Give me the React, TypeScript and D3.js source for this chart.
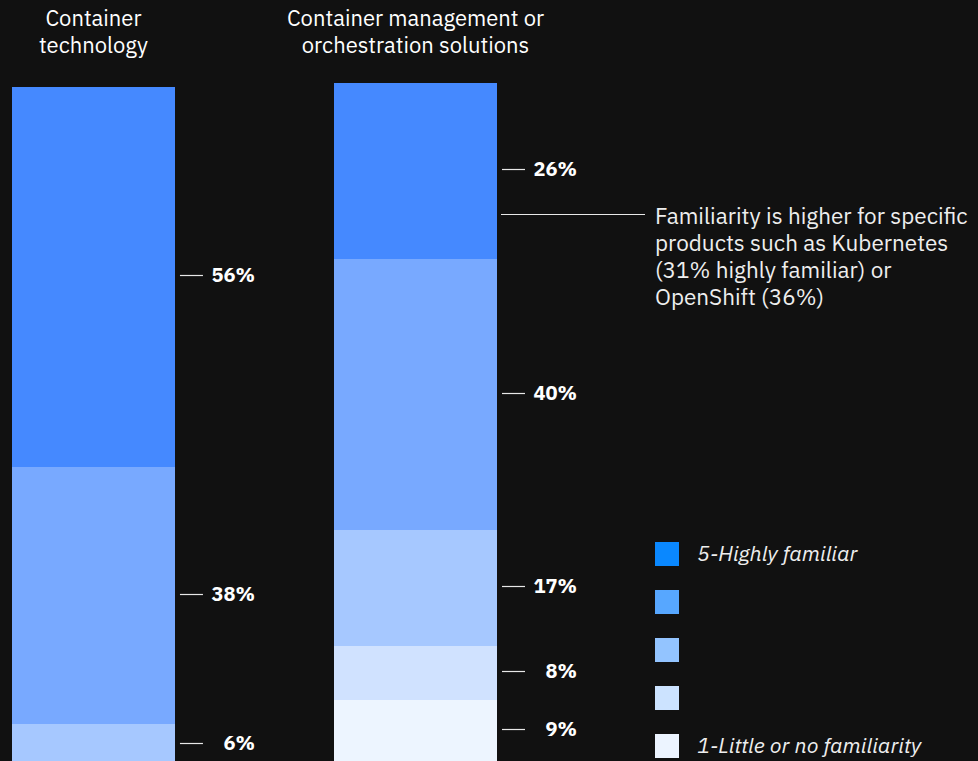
import React from "react";
import * as d3 from "d3";

const categories = ["Container technology", "Container management or orchestration solutions"];
const titleLines = [["Container", "technology"], ["Container management or", "orchestration solutions"]];
const levels = ["5-Highly familiar", "4", "3", "2", "1-Little or no familiarity"];
const containerTech = [56, 38, 6, 0, 0];
const orchestration = [26, 40, 17, 8, 9];
const barColors = ["#4589ff", "#78a9ff", "#a6c8ff", "#d0e2ff", "#edf5ff"];
const legendColors = ["#0a88ff", "#57a7ff", "#93c4ff", "#cce3ff", "#ecf4ff"];
const legendLabels = ["5-Highly familiar", "", "", "", "1-Little or no familiarity"];
const annotationLines = [
  "Familiarity is higher for specific",
  "products such as Kubernetes",
  "(31% highly familiar) or",
  "OpenShift (36%)",
];

const W = 978;
const H = 761;
const FONT = "'IBM Plex Sans', 'Noto Sans', 'Open Sans', sans-serif";

export default function App() {
  const series = [containerTech, orchestration];
  const tops = [87, 83];
  const x = d3.scaleBand<string>().domain(categories).range([12, 497]).paddingInner(0.494).paddingOuter(0);
  const y = d3.scaleLinear().domain([0, 100]).range([0, 678]);
  const bw = x.bandwidth();

  return (
    <svg width={W} height={H} style={{ position: "fixed", left: 0, top: 0, background: "#111111" }} fontFamily={FONT}>
      <rect x={0} y={0} width={W} height={H} fill="#111111" />
      {categories.map((c, ci) => {
        const x0 = x(c) as number;
        const stack = d3.cumsum(series[ci]);
        return (
          <g key={c}>
            {titleLines[ci].map((t, li) => (
              <text key={li} x={x0 + bw / 2} y={26 + li * 27} fill="#ffffff" fontSize={22} textAnchor="middle">
                {t}
              </text>
            ))}
            {series[ci].map((v, i) => {
              if (v <= 0) return null;
              const start = stack[i] - v;
              const yTop = Math.round(tops[ci] + y(start));
              const yBot = Math.round(tops[ci] + y(start + v));
              const h = yBot - yTop;
              const mid = Math.round(yTop + h / 2) - 2;
              return (
                <g key={i}>
                  <rect x={x0} y={yTop} width={bw} height={h} fill={barColors[i]} shapeRendering="crispEdges" />
                  <line x1={x0 + bw + 5} x2={x0 + bw + 28} y1={mid + 0.5} y2={mid + 0.5} stroke="#e8e8e8" strokeWidth={1.2} />
                  <text x={x0 + bw + 80} y={mid + 7} fill="#ffffff" fontSize={20} fontWeight={700} textAnchor="end">
                    {v}%
                  </text>
                </g>
              );
            })}
          </g>
        );
      })}
      <line x1={501} x2={645} y1={214.5} y2={214.5} stroke="#e8e8e8" strokeWidth={1.2} />
      {annotationLines.map((t, i) => (
        <text key={i} x={655} y={224 + i * 27} fill="#eeeeee" fontSize={22.5}>
          {t}
        </text>
      ))}
      {levels.map((l, i) => (
        <g key={l}>
          <rect x={655} y={542 + i * 48} width={24} height={24} fill={legendColors[i]} />
          {legendLabels[i] && (
            <text x={697} y={561 + i * 48} fill="#eeeeee" fontSize={21.5} fontStyle="italic">
              {legendLabels[i]}
            </text>
          )}
        </g>
      ))}
    </svg>
  );
}
